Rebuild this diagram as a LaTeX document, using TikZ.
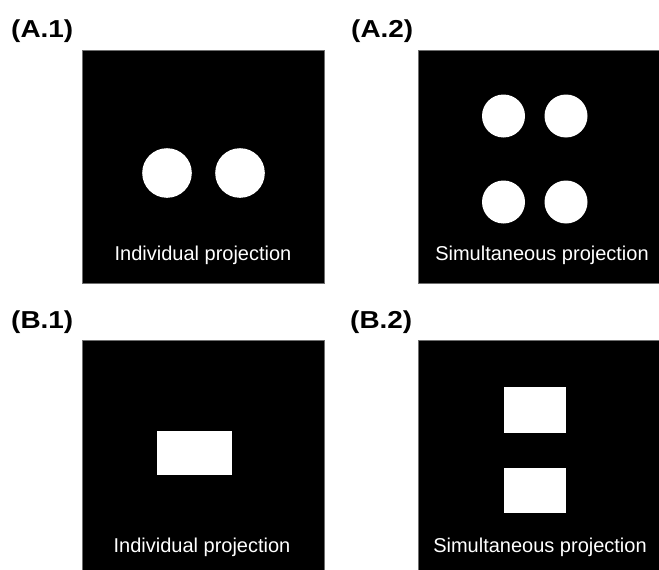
\documentclass[tikz,border=0pt]{standalone}
\usepackage{fontspec}
\setmainfont{Liberation Sans}
\begin{document}
\begin{tikzpicture}[x=1pt,y=-1pt,
  panel/.style={fill=black,draw={rgb,255:red,110;green,110;blue,110},line width=0.8pt},
  spot/.style={fill=white},
  caption/.style={text=white,anchor=base,inner sep=0pt,font=\fontsize{20}{22}\selectfont},
  plabel/.style={anchor=base west,inner sep=0pt,font=\bfseries\fontsize{24.5}{27}\selectfont}]
\useasboundingbox (0,0) rectangle (659,570);
% panels
\draw[panel] (82,50) rectangle (324,283);
\draw[panel] (418,50) rectangle (660,283);
\draw[panel] (82,340) rectangle (324,571);
\draw[panel] (418,340) rectangle (660,571);
% labels
\node[plabel] (la1) at (11,37) {\scalebox{1.14}[1]{(A.1)}};
\node[plabel] (la2) at (351,37) {\scalebox{1.14}[1]{(A.2)}};
\node[plabel] (lb1) at (11,328) {\scalebox{1.14}[1]{(B.1)}};
\node[plabel] (lb2) at (350,328) {\scalebox{1.14}[1]{(B.2)}};
% A.1 circles
\fill[spot] (167,173) circle (24.8);
\fill[spot] (240,173) circle (24.8);
% A.2 circles
\fill[spot] (503.5,116) circle (21.5);
\fill[spot] (566,116) circle (21.5);
\fill[spot] (503.5,202) circle (21.5);
\fill[spot] (566,202) circle (21.5);
% B.1 rectangle
\fill[spot] (156.7,431) rectangle (232.3,475.3);
% B.2 rectangles
\fill[spot] (504.3,386.7) rectangle (566,432.7);
\fill[spot] (504.3,468.3) rectangle (566,513.3);
% captions
\node[caption] (ca1) at (203,260) {Individual projection};
\node[caption] (ca2) at (542,260) {Simultaneous projection};
\node[caption] (cb1) at (202,552) {Individual projection};
\node[caption] (cb2) at (540,552) {Simultaneous projection};
\end{tikzpicture}
\end{document}
